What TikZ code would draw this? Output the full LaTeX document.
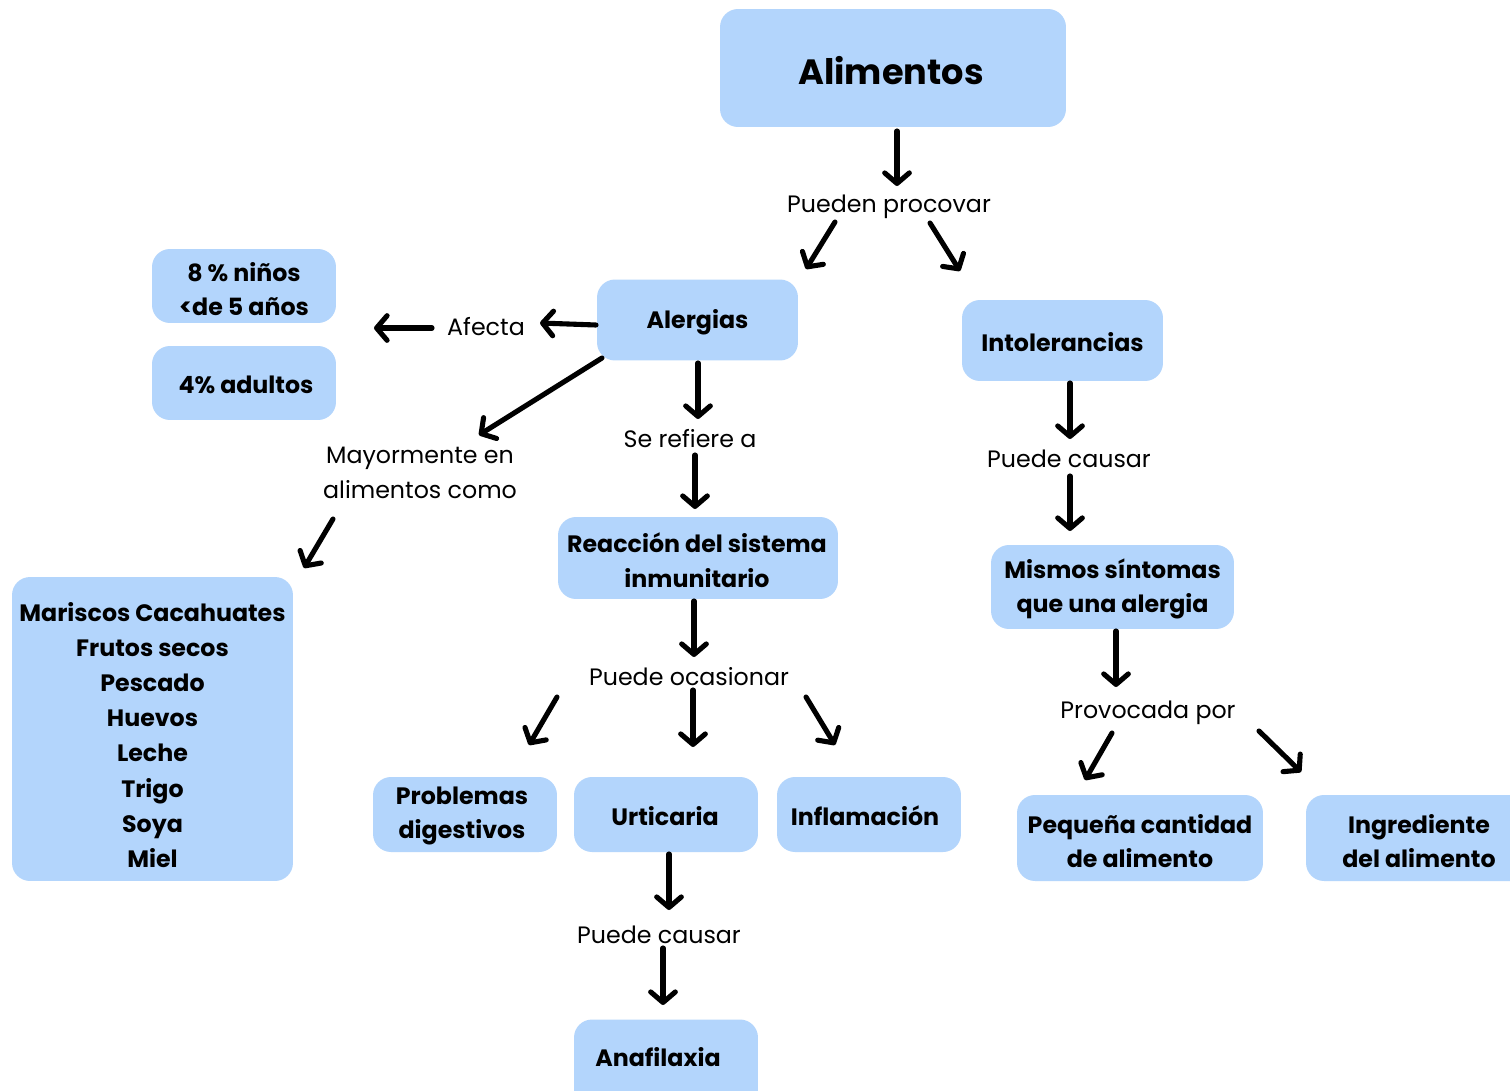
\documentclass[tikz,border=0pt]{standalone}
\usepackage{fontspec}
\setmainfont{Poppins}
\usetikzlibrary{arrows.meta}
\definecolor{boxblue}{HTML}{B3D5FC}
\tikzset{
  box/.style={fill=boxblue, rounded corners=0.36cm, align=center, inner sep=0pt,
    font=\bfseries\fontsize{13.5}{19.8}\selectfont},
  boxtext/.style={align=center, inner sep=0pt, font=\bfseries\fontsize{13.5}{19.8}\selectfont},
  lbl/.style={align=center, inner sep=1pt, font=\fontsize{13.5}{19.8}\selectfont},
  arr/.style={line width=2.9pt, line cap=round, -{Straight Barb[length=6pt,width=14pt,round]}},
}
\begin{document}
\begin{tikzpicture}[x=0.02cm,y=-0.02cm]
\clip (0,0) rectangle (1510,1091);
\fill[white] (0,0) rectangle (1510,1091);
% boxes
\node[box, minimum width=6.92cm, minimum height=2.36cm] (ali) at (893,68) {};
\node[boxtext, font=\bfseries\fontsize{20}{24}\selectfont] (alit) at (891,71) {Alimentos};
\node[box, minimum width=3.68cm, minimum height=1.48cm] (ninos) at (244,286) {};
\node[boxtext] (ninost) at (244,289) {8 \% niños\\<de 5 años};
\node[box, minimum width=3.68cm, minimum height=1.48cm] (adul) at (244,383) {};
\node[boxtext] (adult) at (246,385) {4\% adultos};
\node[box, minimum width=4.02cm, minimum height=1.62cm] (alerg) at (697.5,320) {};
\node[boxtext] (alergt) at (697.5,322) {Alergias};
\node[box, minimum width=4.02cm, minimum height=1.62cm] (intol) at (1062.5,340.5) {};
\node[boxtext] (intolt) at (1062.5,342.5) {Intolerancias};
\node[box, minimum width=5.6cm, minimum height=1.64cm] (reac) at (698,558) {};
\node[boxtext] (react) at (697,560) {Reacción del sistema\\inmunitario};
\node[box, minimum width=5.62cm, minimum height=6.08cm] (maris) at (152.5,729) {};
\node[boxtext, font=\bfseries\fontsize{13.5}{20}\selectfont] (marist) at (152.5,735) {Mariscos Cacahuates\\Frutos secos\\Pescado\\Huevos\\Leche\\Trigo\\Soya\\Miel};
\node[box, minimum width=4.86cm, minimum height=1.68cm] (mismos) at (1112.5,587) {};
\node[boxtext] (mismost) at (1112.5,589) {Mismos síntomas\\que una alergia};
\node[box, minimum width=3.68cm, minimum height=1.5cm] (prob) at (465,814.5) {};
\node[boxtext] (probt) at (462,816) {Problemas\\digestivos};
\node[box, minimum width=3.68cm, minimum height=1.5cm] (urt) at (666,814.5) {};
\node[boxtext] (urtt) at (665,816) {Urticaria};
\node[box, minimum width=3.68cm, minimum height=1.5cm] (infl) at (869,814.5) {};
\node[boxtext] (inflt) at (865,816) {Inflamación};
\node[box, minimum width=4.92cm, minimum height=1.72cm] (peq) at (1140,838) {};
\node[boxtext] (peqt) at (1140,841) {Pequeña cantidad\\de alimento};
\node[box, minimum width=4.48cm, minimum height=1.72cm] (ingr) at (1418,838) {};
\node[boxtext] (ingrt) at (1419,841) {Ingrediente\\del alimento};
\node[box, minimum width=3.68cm, minimum height=1.9cm] (ana) at (666,1067) {};
\node[boxtext] (anat) at (658,1057) {Anafilaxia};
% labels
\node[lbl] (pp) at (889,207) {Pueden procovar};
\node[lbl] (afecta) at (486,327) {Afecta};
\node[lbl] (mayor) at (420,473) {Mayormente en\\alimentos como};
\node[lbl] (seref) at (690,439) {Se refiere a};
\node[lbl] (pc1) at (1069,459) {Puede causar};
\node[lbl] (pocas) at (689,677) {Puede ocasionar};
\node[lbl] (provoc) at (1148,713) {Provocada por};
\node[lbl] (pc2) at (659,935) {Puede causar};
% arrow end points
\coordinate (a1s) at (897,131);  \coordinate (a1e) at (897,186);
\coordinate (a2s) at (835,222);  \coordinate (a2e) at (806,269);
\coordinate (a3s) at (930,223);  \coordinate (a3e) at (960,271);
\coordinate (a4s) at (596,325);  \coordinate (a4e) at (540,323);
\coordinate (a5s) at (432,328);  \coordinate (a5e) at (374,328);
\coordinate (a6s) at (602,358);  \coordinate (a6e) at (479,435);
\coordinate (a7s) at (333,519);  \coordinate (a7e) at (304,568);
\coordinate (a8s) at (698,363);  \coordinate (a8e) at (698,419);
\coordinate (a9s) at (695,455);  \coordinate (a9e) at (695,509);
\coordinate (a10s) at (1070,383); \coordinate (a10e) at (1070,439);
\coordinate (a11s) at (1070,476); \coordinate (a11e) at (1070,531);
\coordinate (a12s) at (694,601); \coordinate (a12e) at (694,657);
\coordinate (a13s) at (557,697); \coordinate (a13e) at (529,745);
\coordinate (a14s) at (693,690); \coordinate (a14e) at (693,747);
\coordinate (a15s) at (806,697); \coordinate (a15e) at (835,745);
\coordinate (a16s) at (1116,631); \coordinate (a16e) at (1116,687);
\coordinate (a17s) at (1112,733); \coordinate (a17e) at (1085,780);
\coordinate (a18s) at (1259,731); \coordinate (a18e) at (1301,772);
\coordinate (a19s) at (669,854); \coordinate (a19e) at (669,910);
\coordinate (a20s) at (663,948); \coordinate (a20e) at (663,1005);
\foreach \i in {1,...,20} {\draw[arr] (a\i s) -- (a\i e);}
\end{tikzpicture}
\end{document}
